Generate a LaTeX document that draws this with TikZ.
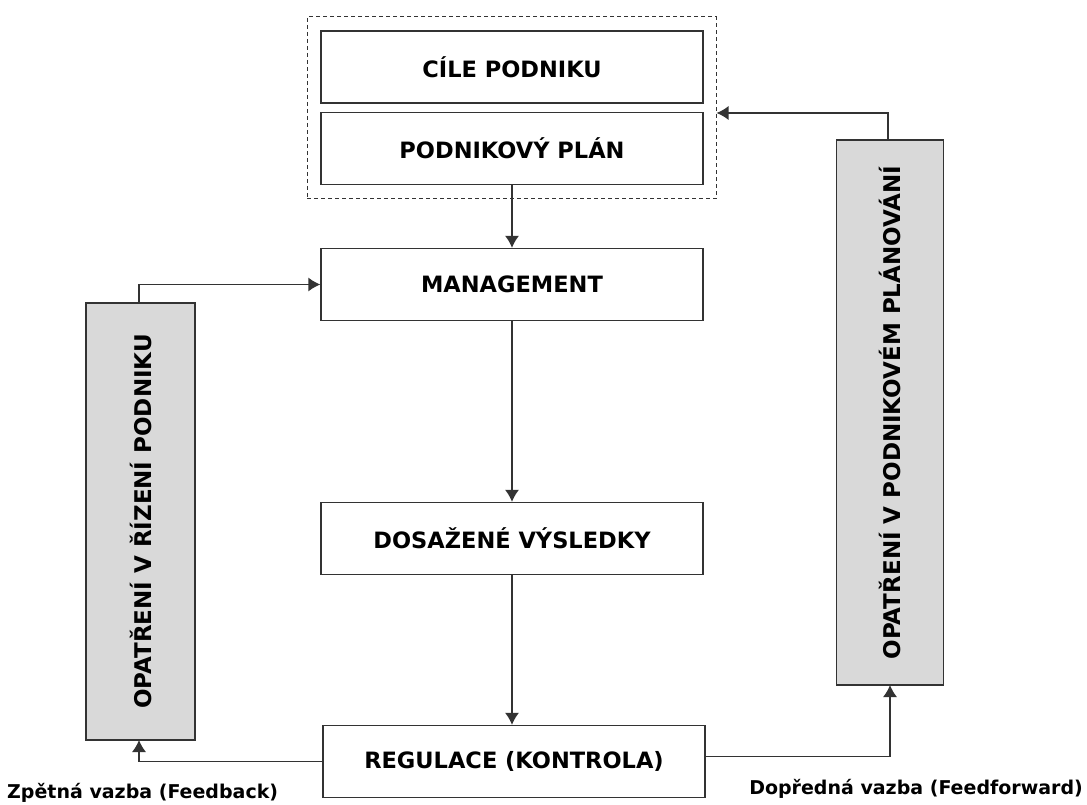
\documentclass[tikz,border=0pt]{standalone}
\usepackage{fontspec}
\setmainfont{DejaVu Sans}
\usetikzlibrary{arrows.meta,fit}
\begin{document}
\begin{tikzpicture}[x=1pt,y=-1pt,
  line/.style={draw=black!80,line width=1.3pt},
  arr/.style={line,-{Latex[length=12pt,width=14pt]}},
  mainbox/.style={line,fill=white,minimum width=382pt,minimum height=72pt,inner sep=0pt,
    font=\fontsize{22.5}{26}\selectfont\bfseries},
  sidebox/.style={line,fill=black!15,inner sep=0pt},
  sidetext/.style={rotate=90,font=\fontsize{23}{27}\selectfont\bfseries},
  lbl/.style={font=\fontsize{19}{22}\selectfont\bfseries,inner sep=0pt}]
\useasboundingbox (0,0) rectangle (1087,805);
\node[mainbox] (cile) at (512,67) {CÍLE PODNIKU};
\node[mainbox] (plan) at (512,148.5) {PODNIKOVÝ PLÁN};
\node[draw=black!80,line width=1pt,dash pattern=on 4pt off 3pt,fit={(307,17) (716,199)},inner sep=0pt] (grp) {};
\node[mainbox] (mgmt) at (512,284.5) {MANAGEMENT};
\node[mainbox] (dos) at (512,538.5) {DOSAŽENÉ VÝSLEDKY};
\node[mainbox] (reg) at (514,761.5) {REGULACE (KONTROLA)};
\node[sidebox,minimum width=109pt,minimum height=437pt] (left) at (140.5,521.5) {};
\node[sidetext] at (left.center) {OPATŘENÍ V ŘÍZENÍ PODNIKU};
\node[sidebox,minimum width=107pt,minimum height=545pt] (right) at (890,412.5) {};
\node[sidetext] at (right.center) {OPATŘENÍ V PODNIKOVÉM PLÁNOVÁNÍ};
\coordinate (ltop) at (139,303);
\coordinate (lbot) at (139,740);
\coordinate (rtop) at (888,140);
\coordinate (rbot) at (890,685);
\draw[arr] (plan.south) -- (mgmt.north);
\draw[arr] (mgmt.south) -- (dos.north);
\draw[arr] (dos.south) -- (dos.south |- reg.north);
\draw[arr] (ltop) |- (mgmt.west);
\draw[arr] (reg.west) -| (lbot);
\draw[arr] ([yshift=5pt]reg.east) -| (rbot);
\draw[arr] (rtop) |- ([yshift=-5pt]grp.east);
\node[lbl,anchor=west] (fb) at (7,793) {Zpětná vazba (Feedback)};
\node[lbl,anchor=east] (ff) at (1083,789) {Dopředná vazba (Feedforward)};
\end{tikzpicture}
\end{document}
